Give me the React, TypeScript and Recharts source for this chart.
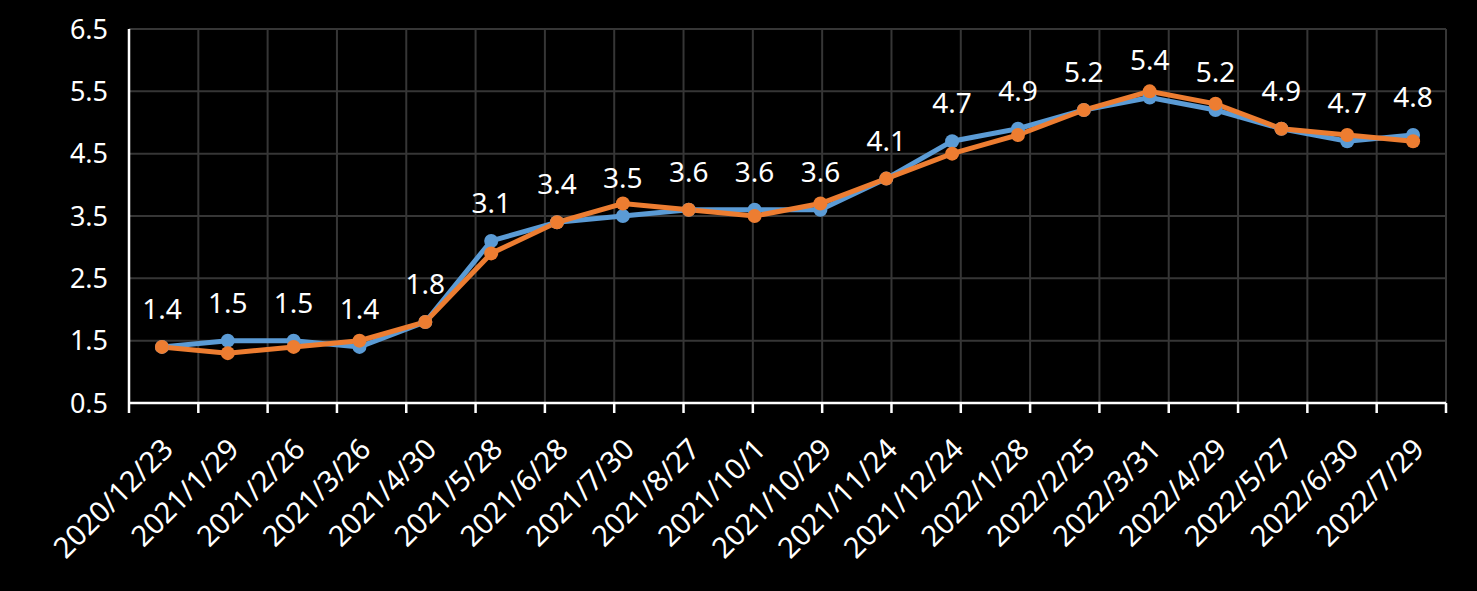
import { LineChart, Line, XAxis, YAxis, CartesianGrid, LabelList } from 'recharts';

const dates = [
  '2020/12/23', '2021/1/29', '2021/2/26', '2021/3/26', '2021/4/30',
  '2021/5/28', '2021/6/28', '2021/7/30', '2021/8/27', '2021/10/1',
  '2021/10/29', '2021/11/24', '2021/12/24', '2022/1/28', '2022/2/25',
  '2022/3/31', '2022/4/29', '2022/5/27', '2022/6/30', '2022/7/29',
];
const blueValues = [1.4, 1.5, 1.5, 1.4, 1.8, 3.1, 3.4, 3.5, 3.6, 3.6, 3.6, 4.1, 4.7, 4.9, 5.2, 5.4, 5.2, 4.9, 4.7, 4.8];
const orangeValues = [1.4, 1.3, 1.4, 1.5, 1.8, 2.9, 3.4, 3.7, 3.6, 3.5, 3.7, 4.1, 4.5, 4.8, 5.2, 5.5, 5.3, 4.9, 4.8, 4.7];
const yTicks = [0.5, 1.5, 2.5, 3.5, 4.5, 5.5, 6.5];
const gridTicks = dates.map((_, i) => i).concat(dates.length);

const data = dates.map((date, i) => ({ date, blue: blueValues[i], orange: orangeValues[i] }));

const FONT = '"Noto Sans", "Open Sans", sans-serif';
const BLUE = '#5B9BD5';
const ORANGE = '#ED7D31';

// rotated date labels, end of text just right of the point
const DateTick = (props: any) => {
  const { x, y, payload } = props;
  return (
    <g transform={`translate(${x + 13},${y + 30})`}>
      <text textAnchor="end" transform="rotate(-45)" fill="#fff" fontSize={29} fontFamily={FONT}>
        {payload.value}
      </text>
    </g>
  );
};

const ValueLabel = (props: any) => {
  const { x, y, value } = props;
  return (
    <text x={x} y={y - 28} textAnchor="middle" fill="#fff" fontSize={28} fontFamily={FONT}>
      {value}
    </text>
  );
};

export default function App() {
  return (
    <div style={{ position: 'fixed', left: 0, top: 0, width: 1477, height: 591, background: '#000' }}>
      <LineChart width={1477} height={591} data={data} margin={{ top: 29, right: 31, left: 0, bottom: 0 }}>
        <CartesianGrid xAxisId="a-grid" stroke="#363636" strokeWidth={2} />
        <XAxis
          xAxisId="a-grid"
          type="number"
          domain={[0, dates.length]}
          ticks={gridTicks}
          height={10}
          tickFormatter={() => ''}
          axisLine={{ stroke: '#fff', strokeWidth: 2.5 }}
          tickLine={{ stroke: '#fff', strokeWidth: 2.5 }}
          tickSize={10}
        />
        <XAxis
          xAxisId="b-dates"
          dataKey="date"
          scale="band"
          height={178}
          axisLine={false}
          tickLine={false}
          interval={0}
          tick={<DateTick />}
        />
        <YAxis
          domain={[0.5, 6.5]}
          ticks={yTicks}
          width={129}
          axisLine={{ stroke: '#fff', strokeWidth: 2.5 }}
          tickLine={false}
          tickMargin={15}
          tick={{ fill: '#fff', fontSize: 27, fontFamily: FONT }}
        />
        <Line
          xAxisId="b-dates"
          dataKey="blue"
          stroke={BLUE}
          strokeWidth={5}
          dot={{ r: 7, fill: BLUE, stroke: BLUE, strokeWidth: 0 }}
          isAnimationActive={false}
        >
          <LabelList dataKey="blue" content={<ValueLabel />} />
        </Line>
        <Line
          xAxisId="b-dates"
          dataKey="orange"
          stroke={ORANGE}
          strokeWidth={5}
          dot={{ r: 7, fill: ORANGE, stroke: ORANGE, strokeWidth: 0 }}
          isAnimationActive={false}
        />
      </LineChart>
    </div>
  );
}
